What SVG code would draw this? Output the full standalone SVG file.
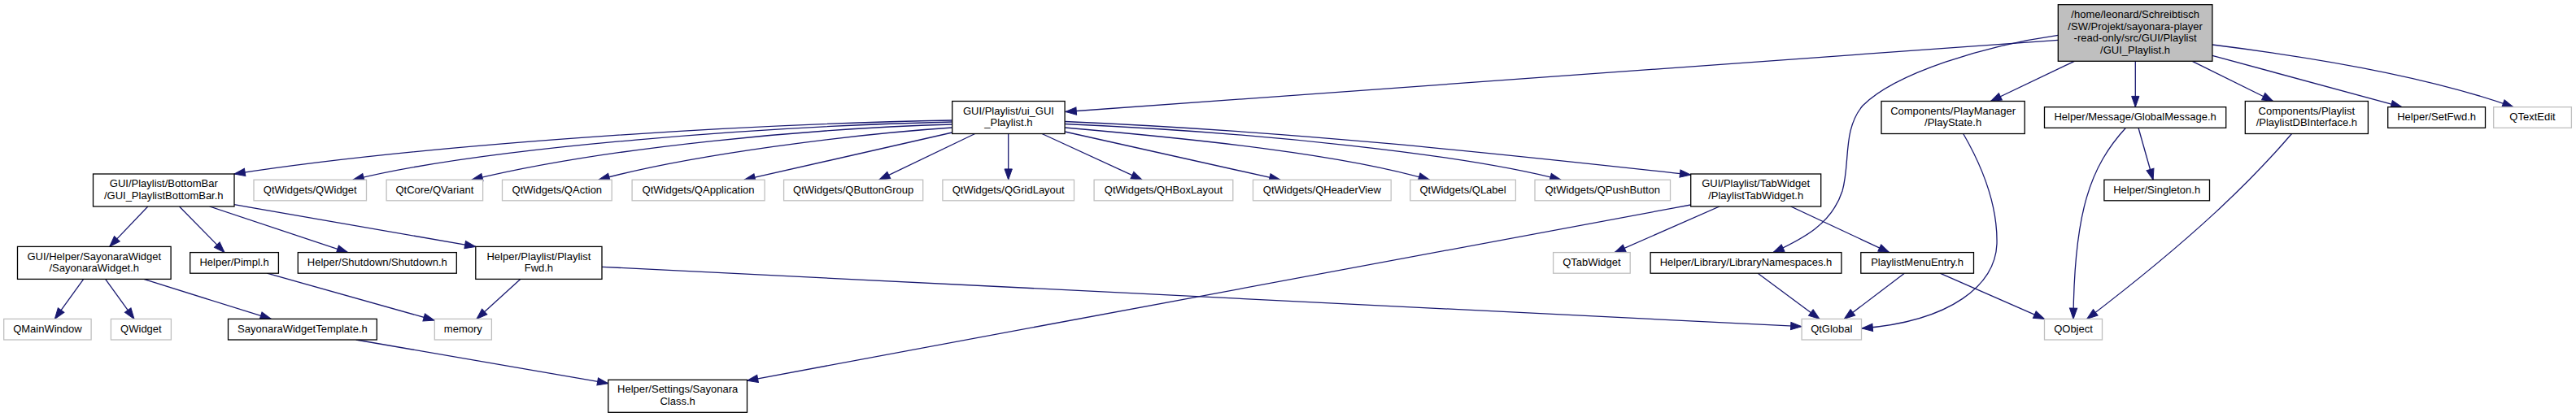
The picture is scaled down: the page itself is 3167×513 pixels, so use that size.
<svg xmlns="http://www.w3.org/2000/svg" width="3167" height="513" viewBox="0 0 3167 513">
<style>
text{font-family:"Liberation Sans",Arial,sans-serif;font-size:13px;text-anchor:middle;fill:#000}
.n rect{fill:#fff;stroke:#000;stroke-width:1.3}
.x rect{fill:#fff;stroke:#bfbfbf;stroke-width:1.3}
.m rect{fill:#bfbfbf;stroke:#000;stroke-width:1.3}
#edges path{fill:none;stroke:#191970;stroke-width:1.3;marker-end:url(#a)}
</style>
<defs>
<marker id="a" markerWidth="16" markerHeight="12" refX="13.3" refY="4.65" orient="auto" markerUnits="userSpaceOnUse" style="overflow:visible">
<path d="M0,0 L13.3,4.65 L0,9.3 z" fill="#191970" stroke="#191970" stroke-width="1"/>
</marker>
</defs>
<rect width="3167" height="513" fill="#fff"/>
<g id="edges">
<path d="M2530.3,49.3 L1310,137.5"/>
<path d="M2530.3,43.3 C2440,56 2330,90 2290,130 C2265,160 2275,200 2265,235 C2252,275 2218,293 2180,310.6"/>
<path d="M2550.3,75.3 L2447.4,124.5"/>
<path d="M2625.3,75.3 L2625.3,131.7"/>
<path d="M2695.3,75.3 L2794.6,124.5"/>
<path d="M2719.9,68.3 L2952.9,131.7"/>
<path d="M2719.9,55 Q2960,85 3090,131.7"/>
<path d="M1170.7,148 C900,153 520,178 288,214"/>
<path d="M1170.7,150 C950,155 600,180 434,221.2"/>
<path d="M1170.7,153 C1000,158 750,180 580,221.2"/>
<path d="M1170.7,157 C1050,165 850,190 736,221.2"/>
<path d="M1170.7,163 L915,221.2"/>
<path d="M1198.7,164.5 L1080.8,221.2"/>
<path d="M1239.7,164.5 L1239.7,221.2"/>
<path d="M1281,164.5 L1404,221.2"/>
<path d="M1309.1,162 L1574,221.2"/>
<path d="M1309.1,157 C1480,172 1650,190 1757.4,221.2"/>
<path d="M1309.1,152.5 C1550,163 1800,190 1919,221.2"/>
<path d="M1309.1,149.5 C1600,162 1850,190 2078.7,215"/>
<path d="M181.8,254 L134.7,303.4"/>
<path d="M220.5,254 L276.1,310.6"/>
<path d="M257.6,254 L427.6,310.6"/>
<path d="M288,251.7 L584.8,303.4"/>
<path d="M102.7,343.4 L67.3,392.4"/>
<path d="M129.6,343.4 L165,392.4"/>
<path d="M176.8,343.4 L333.3,392.4"/>
<path d="M328.3,336.2 L534,394"/>
<path d="M639.7,343.4 L585.9,392.4"/>
<path d="M740,328.3 L2215,401.7"/>
<path d="M437.7,418 L747.8,471.7"/>
<path d="M2078.7,252 L918.5,468.3"/>
<path d="M2114,254 L1985,310.6"/>
<path d="M2201.6,254 L2322.8,310.6"/>
<path d="M2161.2,336.2 L2237,392.4"/>
<path d="M2341.3,336.2 L2267.3,392.4"/>
<path d="M2385.1,336.2 L2513.5,392.4"/>
<path d="M2413.7,164.5 C2440,210 2456,255 2455,300 C2453,350 2400,395 2289,404"/>
<path d="M2629,157.3 L2647.1,221.2"/>
<path d="M2613.5,157.3 C2570,205 2550,260 2549,392.4"/>
<path d="M2817.5,164.5 C2770,220 2700,290 2565.7,392.4"/>
</g>
<g id="main" class="m"><rect x="2530.3" y="5.7" width="189.6" height="69.6"/><text x="2625.1" y="21.8">/home/leonard/Schreibtisch</text><text x="2625.1" y="36.6">/SW/Projekt/sayonara-player</text><text x="2625.1" y="51.4">-read-only/src/GUI/Playlist</text><text x="2625.1" y="66.2">/GUI_Playlist.h</text></g>
<g id="ui_gui_playlist" class="n"><rect x="1170.7" y="124.5" width="138.4" height="40"/><text x="1239.9" y="140.6">GUI/Playlist/ui_GUI</text><text x="1239.9" y="155.4">_Playlist.h</text></g>
<g id="playstate" class="n"><rect x="2313" y="124.5" width="176.2" height="40"/><text x="2401.1" y="140.6">Components/PlayManager</text><text x="2401.1" y="155.4">/PlayState.h</text></g>
<g id="globalmessage" class="n"><rect x="2513.5" y="131.7" width="223.2" height="25.6"/><text x="2625.1" y="148">Helper/Message/GlobalMessage.h</text></g>
<g id="playlistdbinterface" class="n"><rect x="2760.3" y="124.5" width="151.1" height="40"/><text x="2835.85" y="140.6">Components/Playlist</text><text x="2835.85" y="155.4">/PlaylistDBInterface.h</text></g>
<g id="setfwd" class="n"><rect x="2935.7" y="131.7" width="119.8" height="25.6"/><text x="2995.6" y="148">Helper/SetFwd.h</text></g>
<g id="qtextedit" class="x"><rect x="3065.7" y="131.7" width="95.7" height="25.6"/><text x="3113.55" y="148">QTextEdit</text></g>
<g id="bottombar" class="n"><rect x="114.5" y="214" width="173.5" height="40"/><text x="201.25" y="230.1">GUI/Playlist/BottomBar</text><text x="201.25" y="244.9">/GUI_PlaylistBottomBar.h</text></g>
<g id="qtwidgets_qwidget" class="x"><rect x="312" y="221.2" width="138.5" height="25.6"/><text x="381.25" y="237.5">QtWidgets/QWidget</text></g>
<g id="qvariant" class="x"><rect x="475.1" y="221.2" width="118.5" height="25.6"/><text x="534.35" y="237.5">QtCore/QVariant</text></g>
<g id="qaction" class="x"><rect x="617.5" y="221.2" width="134.7" height="25.6"/><text x="684.85" y="237.5">QtWidgets/QAction</text></g>
<g id="qapplication" class="x"><rect x="777.1" y="221.2" width="163" height="25.6"/><text x="858.6" y="237.5">QtWidgets/QApplication</text></g>
<g id="qbuttongroup" class="x"><rect x="963.6" y="221.2" width="171.1" height="25.6"/><text x="1049.15" y="237.5">QtWidgets/QButtonGroup</text></g>
<g id="qgridlayout" class="x"><rect x="1158.9" y="221.2" width="161.6" height="25.6"/><text x="1239.7" y="237.5">QtWidgets/QGridLayout</text></g>
<g id="qhboxlayout" class="x"><rect x="1345.1" y="221.2" width="170.7" height="25.6"/><text x="1430.45" y="237.5">QtWidgets/QHBoxLayout</text></g>
<g id="qheaderview" class="x"><rect x="1540.5" y="221.2" width="169.7" height="25.6"/><text x="1625.35" y="237.5">QtWidgets/QHeaderView</text></g>
<g id="qlabel" class="x"><rect x="1733.8" y="221.2" width="129.6" height="25.6"/><text x="1798.6" y="237.5">QtWidgets/QLabel</text></g>
<g id="qpushbutton" class="x"><rect x="1887" y="221.2" width="166.5" height="25.6"/><text x="1970.25" y="237.5">QtWidgets/QPushButton</text></g>
<g id="tabwidget" class="n"><rect x="2078.7" y="214" width="160" height="40"/><text x="2158.7" y="230.1">GUI/Playlist/TabWidget</text><text x="2158.7" y="244.9">/PlaylistTabWidget.h</text></g>
<g id="singleton" class="n"><rect x="2586.9" y="221.2" width="129.6" height="25.6"/><text x="2651.7" y="237.5">Helper/Singleton.h</text></g>
<g id="sayonarawidget" class="n"><rect x="21.5" y="303.4" width="188.6" height="40"/><text x="115.8" y="319.5">GUI/Helper/SayonaraWidget</text><text x="115.8" y="334.3">/SayonaraWidget.h</text></g>
<g id="pimpl" class="n"><rect x="233.7" y="310.6" width="108.7" height="25.6"/><text x="288.05" y="326.9">Helper/Pimpl.h</text></g>
<g id="shutdown" class="n"><rect x="366.3" y="310.6" width="195" height="25.6"/><text x="463.8" y="326.9">Helper/Shutdown/Shutdown.h</text></g>
<g id="playlistfwd" class="n"><rect x="584.8" y="303.4" width="155.2" height="40"/><text x="662.4" y="319.5">Helper/Playlist/Playlist</text><text x="662.4" y="334.3">Fwd.h</text></g>
<g id="qtabwidget" class="x"><rect x="1909.6" y="310.6" width="94.6" height="25.6"/><text x="1956.9" y="326.9">QTabWidget</text></g>
<g id="librarynamespaces" class="n"><rect x="2029.1" y="310.6" width="234.8" height="25.6"/><text x="2146.5" y="326.9">Helper/Library/LibraryNamespaces.h</text></g>
<g id="playlistmenuentry" class="n"><rect x="2287.8" y="310.6" width="138.7" height="25.6"/><text x="2357.15" y="326.9">PlaylistMenuEntry.h</text></g>
<g id="qmainwindow" class="x"><rect x="4.7" y="392.4" width="107.4" height="25.6"/><text x="58.4" y="408.7">QMainWindow</text></g>
<g id="qwidget" class="x"><rect x="136.4" y="392.4" width="74" height="25.6"/><text x="173.4" y="408.7">QWidget</text></g>
<g id="sayonarawidgettemplate" class="n"><rect x="280.5" y="392.4" width="182.8" height="25.6"/><text x="371.9" y="408.7">SayonaraWidgetTemplate.h</text></g>
<g id="memory" class="x"><rect x="534.3" y="392.4" width="70.1" height="25.6"/><text x="569.35" y="408.7">memory</text></g>
<g id="qtglobal" class="x"><rect x="2215.1" y="392.4" width="73.4" height="25.6"/><text x="2251.8" y="408.7">QtGlobal</text></g>
<g id="qobject" class="x"><rect x="2513.5" y="392.4" width="71" height="25.6"/><text x="2549" y="408.7">QObject</text></g>
<g id="sayonaraclass" class="n"><rect x="747.8" y="467.3" width="170.7" height="40"/><text x="833.15" y="483.4">Helper/Settings/Sayonara</text><text x="833.15" y="498.2">Class.h</text></g>
</svg>
